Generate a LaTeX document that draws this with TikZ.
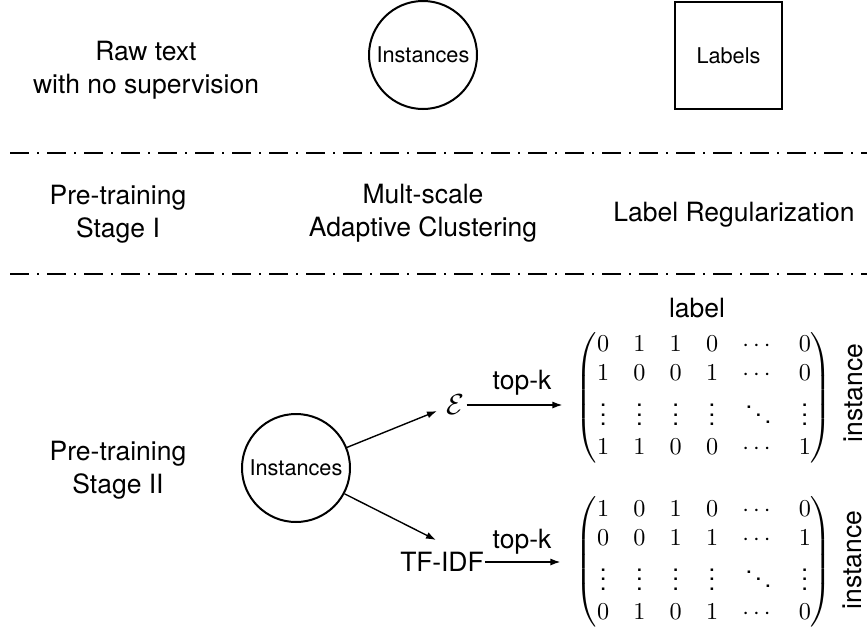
\documentclass[tikz,border=0pt]{standalone}
\usepackage{amsmath}
\usepackage[no-math]{fontspec}
\setmainfont{TeX Gyre Heros}
\usetikzlibrary{arrows.meta}
\begin{document}
\begin{tikzpicture}[x=1pt,y=-1pt,
  bigtxt/.style={font=\fontsize{26.5}{33}\selectfont, align=center, inner sep=0pt},
  smalltxt/.style={font=\fontsize{21.7}{26}\selectfont},
  shp/.style={draw, line width=2pt, inner sep=0pt},
  arr/.style={-{Latex[length=10pt,width=7pt]}, line width=1.4pt},
  sepline/.style={line width=2pt, dash pattern=on 19pt off 8pt on 2pt off 8pt},
  mat/.style={scale=2.42, inner sep=0pt}]
\useasboundingbox (0,0) rectangle (867,632);

% top row
\node[bigtxt] (raw) at (146,70) {Raw text\\with no supervision};
\node[shp, circle, minimum size=108pt, smalltxt] (tinst) at (423,55) {Instances};
\node[shp, rectangle, minimum size=107pt, smalltxt] (tlab) at (728.5,55.5) {Labels};

% separators
\coordinate (s1a) at (10,153);
\coordinate (s1b) at (867,153);
\coordinate (s2a) at (10,274);
\coordinate (s2b) at (867,274);
\draw[sepline] (s1a) -- (s1b);
\draw[sepline] (s2a) -- (s2b);

% middle row
\node[bigtxt] (pt1) at (118,214) {Pre-training\\Stage I};
\node[bigtxt] (msac) at (423,213.5) {Mult-scale\\Adaptive Clustering};
\node[bigtxt] (lreg) at (734,215) {Label Regularization};

% bottom row
\node[bigtxt] (pt2) at (118,470) {Pre-training\\Stage II};
\node[shp, circle, minimum size=108pt, smalltxt] (binst) at (296,468) {Instances};

\node[scale=2.9, inner sep=0pt] (E) at (455,405) {$\mathcal{E}$};
\node[bigtxt] (tf) at (442,562) {TF-IDF};

\node[mat] (m1) at (704,397.5) {$\begin{pmatrix}
0&1&1&0&\cdots&0\\
1&0&0&1&\cdots&0\\
\vdots&\vdots&\vdots&\vdots&\ddots&\vdots\\
1&1&0&0&\cdots&1
\end{pmatrix}$};
\node[mat] (m2) at (704,562) {$\begin{pmatrix}
1&0&1&0&\cdots&0\\
0&0&1&1&\cdots&1\\
\vdots&\vdots&\vdots&\vdots&\ddots&\vdots\\
0&1&0&1&\cdots&0
\end{pmatrix}$};

\node[bigtxt] (lab) at (697,308) {label};
\node[bigtxt, rotate=90] (i1) at (853,393) {instance};
\node[bigtxt, rotate=90] (i2) at (852,560) {instance};

\node[bigtxt] (tk1) at (522,383) {top-k};
\node[bigtxt] (tk2) at (522,542) {top-k};

% connectors
\draw[arr] (binst.22) -- ([shift={(-18,6)}]E.center);
\draw[arr] (binst.-28) -- ([shift={(-6,-22)}]tf.center);
\draw[arr, shorten <=2pt, shorten >=13pt] (E.east) -- (E.east -| m1.west);
\draw[arr, shorten <=1pt, shorten >=15pt] (tf.east) -- (tf.east -| m2.west);
\end{tikzpicture}
\end{document}
